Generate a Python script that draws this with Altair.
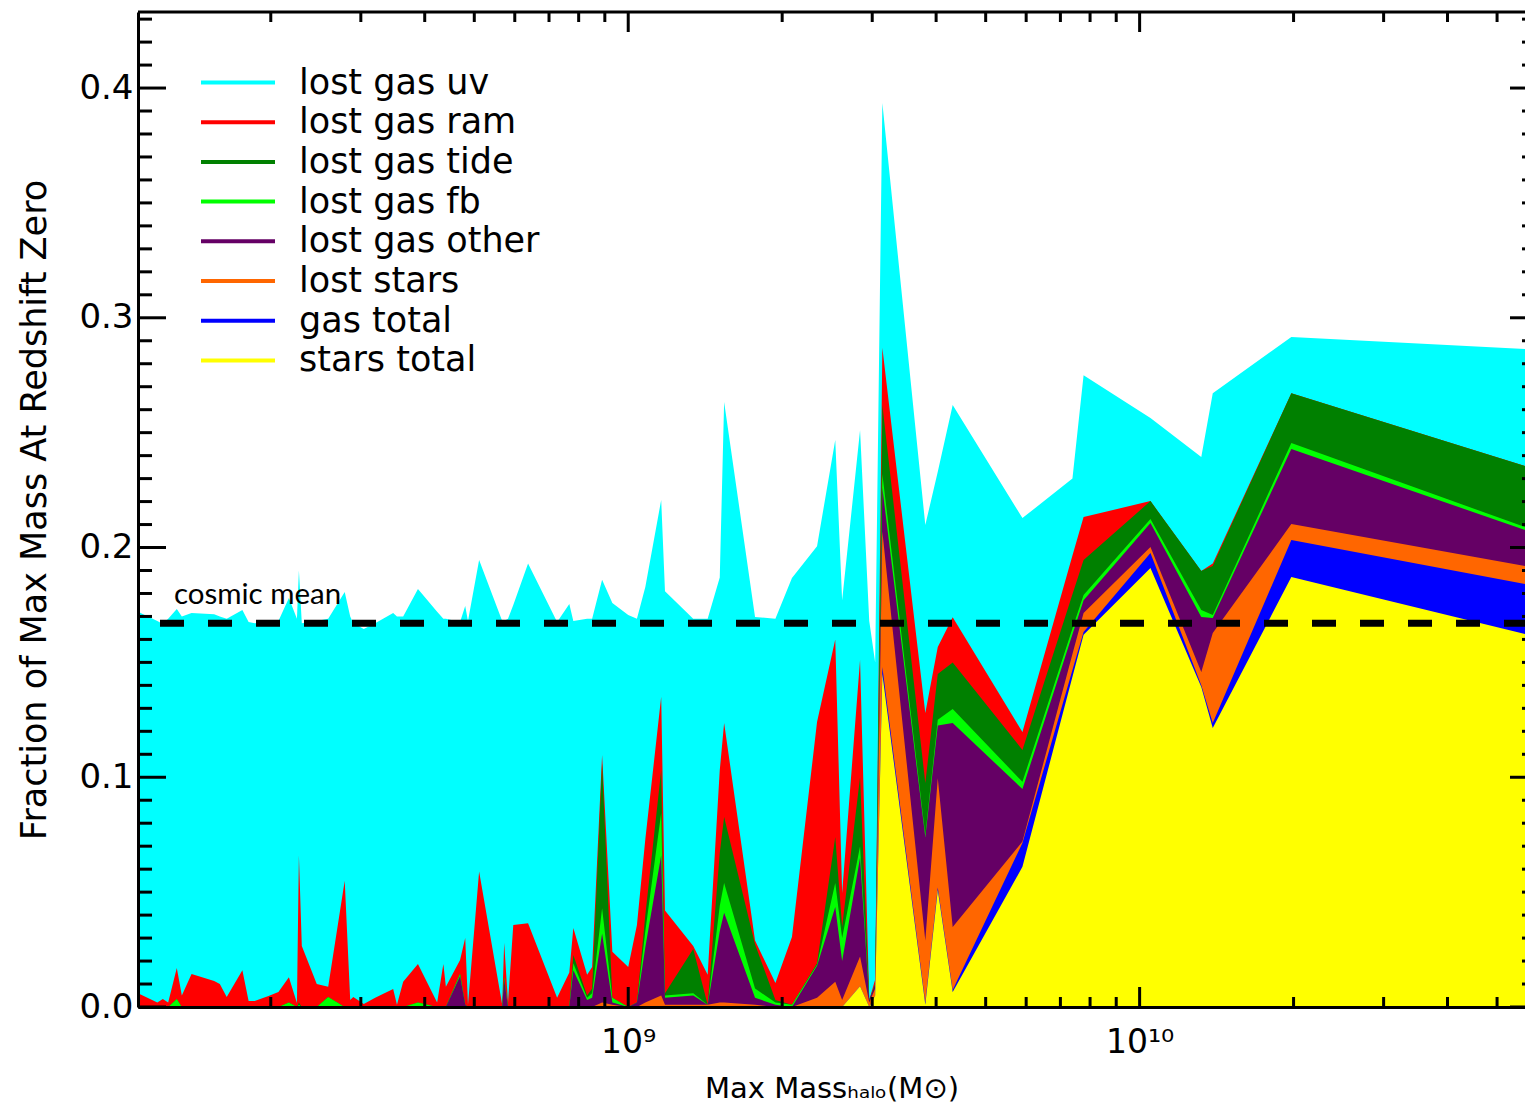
import altair as alt
import pandas as pd

# Peak halo mass of each system (solar masses), increasing
mass = [
    1.10e8, 1.20e8, 1.23e8, 1.26e8, 1.31e8, 1.34e8, 1.40e8, 1.55e8, 1.59e8, 1.64e8,
    1.76e8, 1.81e8, 1.86e8, 1.98e8, 2.07e8, 2.17e8, 2.25e8, 2.27e8, 2.30e8, 2.46e8,
    2.59e8, 2.79e8, 2.86e8, 2.90e8, 2.96e8, 3.04e8, 3.20e8, 3.47e8, 3.53e8, 3.63e8,
    3.88e8, 4.23e8, 4.35e8, 4.40e8, 4.69e8, 4.80e8, 4.86e8, 5.11e8, 5.67e8, 5.72e8,
    5.82e8, 5.96e8, 6.37e8, 7.26e8, 7.67e8, 7.81e8, 8.31e8, 8.50e8, 8.89e8, 9.31e8,
    1.00e9, 1.04e9, 1.08e9, 1.16e9, 1.18e9, 1.34e9, 1.43e9, 1.51e9, 1.54e9, 1.77e9,
    1.94e9, 2.09e9, 2.34e9, 2.54e9, 2.62e9, 2.84e9, 2.96e9, 3.04e9, 3.14e9, 3.81e9,
    4.03e9, 4.31e9, 5.90e9, 7.39e9, 7.77e9, 1.05e10, 1.32e10, 1.39e10, 1.98e10, 5.67e10,
]

# Running totals (fraction of max mass), accumulated from "stars total" upward.
cum_stars_total = [
    0, 0, 0, 0, 0, 0, 0, 0, 0, 0,
    0, 0, 0, 0, 0, 0, 0, 0, 0, 0,
    0, 0, 0, 0, 0, 0, 0, 0, 0, 0,
    0, 0, 0, 0, 0, 0, 0, 0, 0, 0,
    0, 0, 0, 0, 0, 0, 0, 0, 0, 0,
    0, 0, 0, 0, 0, 0, 0, 0, 0, 0,
    0, 0, 0, 0, 0, .009, 0, .005, .145, .001,
    .0509, .0065, .061, .1438, .162, .1911, .1393, .1214, .1872, .1624,
]
cum_gas_total = [
    0, 0, 0, 0, 0, 0, 0, 0, 0, 0,
    0, 0, 0, 0, 0, 0, 0, 0, 0, 0,
    0, 0, 0, 0, 0, 0, 0, 0, 0, 0,
    0, 0, 0, 0, 0, 0, 0, 0, 0, 0,
    0, 0, 0, 0, 0, 0, 0, 0, 0, 0,
    0, 0, 0, 0, 0, 0, 0, 0, 0, 0,
    0, 0, 0, 0, 0, .009, 0, .005, .148, .002,
    .052, .0074, .0714, .1467, .1632, .1976, .140, .1236, .2033, .1841,
]
cum_lost_stars = [
    0, 0, 0, 0, 0, 0, 0, 0, 0, 0,
    0, 0, 0, 0, 0, 0, 0, 0, 0, 0,
    0, 0, 0, 0, 0, 0, 0, 0, 0, 0,
    0, 0, 0, 0, 0, 0, 0, 0, 0, 0,
    0, 0, 0, 0, 0, 0, 0, 0, .002, .001,
    0, 0, .002, .005, .001, .001, .001, .002, .002, .001,
    0, 0, .004, .011, .003, .022, .002, .008, .207, .029,
    .0996, .0348, .072, .1536, .1715, .2002, .1458, .1628, .2102, .192,
]
cum_lost_gas_other = [
    0, 0, 0, 0, 0, 0, 0, 0, 0, 0,
    0, 0, 0, 0, 0, 0, 0, 0, 0, 0,
    0, 0, 0, 0, 0, 0, 0, 0, 0, 0,
    0, 0, 0, 0, .0135, .001, 0, 0, 0, .012,
    0, 0, 0, 0, 0, .016, .003, .004, .032, .002,
    0, .002, .026, .066, .004, .005, .001, .033, .041, .004,
    .001, 0, .018, .0435, .02, .065, .003, .01, .226, .074,
    .1225, .1236, .0949, .1622, .177, .2107, .1698, .1693, .2429, .2076,
]
cum_lost_gas_fb = [
    0, 0, 0, 0, .0035, 0, 0, 0, 0, 0,
    0, 0, 0, 0, 0, .002, 0, .001, 0, 0,
    .0044, 0, 0, 0, 0, 0, 0, 0, 0, 0,
    .002, 0, 0, 0, .0145, .001, 0, 0, 0, .013,
    0, 0, 0, 0, 0, .019, .004, .006, .043, .004,
    0, .002, .033, .0844, .005, .006, .001, .044, .054, .008,
    .002, .001, .0185, .054, .03, .07, .003, .01, .232, .075,
    .125, .1297, .098, .1647, .1793, .2124, .1728, .1706, .2455, .2089,
]
cum_lost_gas_tide = [
    0, 0, 0, 0, .0035, 0, 0, 0, 0, 0,
    0, 0, 0, 0, 0, .002, 0, .002, 0, 0,
    .0044, 0, 0, 0, 0, 0, 0, 0, 0, 0,
    .002, 0, 0, 0, .0145, .001, 0, 0, 0, .013,
    0, 0, 0, 0, 0, .0226, .005, .008, .106, .004,
    0, .002, .040, .103, .006, .0253, .001, .067, .0827, .0273,
    .003, .001, .019, .074, .035, .100, .003, .01, .262, .0975,
    .145, .150, .1119, .1797, .1946, .2202, .1898, .192, .2672, .2355,
]
cum_lost_gas_ram = [
    .006, .002, .0035, .002, .017, .005, .0144, .0113, .010, .0044,
    .016, .0026, .0026, .0048, .0065, .013, .0017, .066, .0265, .010,
    .0088, .055, .003, .0044, .003, .0013, .004, .0078, .001, .011,
    .0187, .002, .0187, .0088, .0205, .030, .001, .059, .001, .028,
    .002, .0357, .0365, .004, .015, .0344, .014, .0174, .1097, .024,
    .0174, .0357, .073, .135, .042, .0265, .014, .103, .1236, .029,
    .0104, .0305, .124, .160, .0496, .151, .003, .012, .287, .128,
    .1567, .1697, .1197, .1965, .2133, .2202, .1898, .193, .2672, .2355,
]
cum_lost_gas_uv = [
    .172, .168, .1667, .169, .1732, .170, .1715, .171, .170, .169,
    .1728, .1676, .167, .1676, .168, .178, .169, .190, .167, .168,
    .169, .1806, .170, .167, .166, .1645, .167, .1715, .170, .170,
    .182, .172, .169, .169, .1676, .1745, .168, .1946, .168, .168,
    .169, .175, .193, .1676, .1754, .168, .169, .169, .186, .1758,
    .1706, .169, .1828, .2207, .181, .169, .169, .187, .2633, .1698,
    .169, .1867, .2006, .2468, .177, .251, .168, .150, .3935, .2098,
    .233, .262, .2128, .230, .275, .2564, .2394, .2672, .2916, .2864,
]

cosmic_mean = 0.167

series_names = ["lost gas uv", "lost gas ram", "lost gas tide", "lost gas fb",
                "lost gas other", "lost stars", "gas total", "stars total"]
series_colors = ["#00FFFF", "#FF0000", "#008000", "#00FF00",
                 "#650065", "#FF6600", "#0000FF", "#FFFF00"]
series_fields = ["uv", "ram", "tide", "fb", "other", "lstars", "gas", "stars"]

# Axis tick positions
x_major_ticks = [1e9, 1e10]
x_minor_ticks = [2e8, 3e8, 4e8, 5e8, 6e8, 7e8, 8e8, 9e8,
                 2e9, 3e9, 4e9, 5e9, 6e9, 7e9, 8e9, 9e9,
                 2e10, 3e10, 4e10, 5e10]
y_major_ticks = [0.0, 0.1, 0.2, 0.3, 0.4]
y_minor_ticks = [round(0.01 * i, 2) for i in range(1, 44) if i % 10]

df = pd.DataFrame({
    "mass": mass,
    "uv": cum_lost_gas_uv, "ram": cum_lost_gas_ram, "tide": cum_lost_gas_tide,
    "fb": cum_lost_gas_fb, "other": cum_lost_gas_other, "lstars": cum_lost_stars,
    "gas": cum_gas_total, "stars": cum_stars_total,
})

W, H = 1387, 995
FONT = "DejaVu Sans"
x_scale = alt.Scale(type="log", domain=[1.10e8, 5.67e10], nice=False)
y_scale = alt.Scale(domain=[0, 0.4331], nice=False, zero=False)

x_axis = alt.Axis(
    values=x_major_ticks,
    labelExpr="datum.value < 5e9 ? '10\u2079' : '10\u00b9\u2070'",
    ticks=False, grid=False, domain=True, domainColor="black", domainWidth=3,
    labelFont=FONT, labelFontSize=33, labelColor="black", labelPadding=19,
    labelFlush=False, labelOverlap=False,
    title="Max Mass\u2095\u2090\u2097\u2092(M\u2299)", titleFont=FONT, titleFontSize=29,
    titleFontWeight="normal", titleColor="black", titlePadding=15, zindex=1,
)
y_axis = alt.Axis(
    values=y_major_ticks, format=".1f",
    ticks=False, grid=False, domain=True, domainColor="black", domainWidth=3,
    labelFont=FONT, labelFontSize=34, labelColor="black", labelPadding=5,
    title="Fraction of Max Mass At Redshift Zero", titleFont=FONT, titleFontSize=35,
    titleFontWeight="normal", titleColor="black", titlePadding=26, zindex=1,
)

def X(field):
    return alt.X(field, scale=x_scale, axis=x_axis)

def Y(field):
    return alt.Y(field, scale=y_scale, axis=y_axis, stack=None)

# Cumulative bands, drawn from the outermost total inward
layers = [
    alt.Chart(df).mark_area(color=color, opacity=1).encode(x=X("mass:Q"), y=Y(f"{field}:Q"))
    for field, color in zip(series_fields, series_colors)
]

# Cosmic baryon fraction
mean_line = alt.Chart(pd.DataFrame({"v": [cosmic_mean]})).mark_rule(
    color="black", strokeWidth=7, strokeDash=[24, 24], strokeDashOffset=3
).encode(y=Y("v:Q"))

mean_label = alt.Chart(pd.DataFrame({"m": [1.293e8], "f": [0.1754], "t": ["cosmic mean"]})).mark_text(
    font="Lato", fontSize=29.5, align="left", baseline="alphabetic", color="black"
).encode(x=X("m:Q"), y=Y("f:Q"), text="t:N")

# Inward ticks on all four sides
def yticks(vals, x0, x1):
    return alt.Chart(pd.DataFrame({"v": vals})).mark_rule(color="black", strokeWidth=3).encode(
        y=Y("v:Q"), x=alt.value(x0), x2=alt.value(x1))

def xticks(vals, y0, y1):
    return alt.Chart(pd.DataFrame({"v": vals})).mark_rule(color="black", strokeWidth=3).encode(
        x=X("v:Q"), y=alt.value(y0), y2=alt.value(y1))

tick_layers = [
    yticks(y_major_ticks, 0, 28), yticks(y_minor_ticks, 0, 14),
    yticks(y_major_ticks, W - 15, W), yticks(y_minor_ticks, W - 3, W),
    xticks(x_major_ticks, H - 20, H), xticks(x_minor_ticks, H - 10, H),
    xticks(x_major_ticks, 0, 20), xticks(x_minor_ticks, 0, 10),
]

top_border = alt.Chart(pd.DataFrame({"a": [0]})).mark_rule(color="black", strokeWidth=3).encode(
    x=alt.value(0), x2=alt.value(W), y=alt.value(0))

legend_layer = alt.Chart(pd.DataFrame({"series": series_names})).mark_line().encode(
    x=alt.value(0), y=alt.value(0),
    color=alt.Color(
        "series:N",
        scale=alt.Scale(domain=series_names, range=series_colors),
        legend=alt.Legend(
            title=None, orient="none", legendX=61, legendY=53,
            symbolType="stroke", symbolSize=5476, symbolStrokeWidth=4,
            labelFont=FONT, labelFontSize=35, labelColor="black", labelOffset=22,
            labelLimit=0, clipHeight=35, rowPadding=3.7, padding=0,
        ),
    ),
).transform_filter("false")

chart = alt.layer(
    *layers, mean_line, mean_label, *tick_layers, top_border, legend_layer
).properties(
    width=W, height=H,
    padding={"left": 138, "top": 12, "right": 0, "bottom": 104},
    autosize=alt.AutoSizeParams(type="none"),
    background="white",
).configure_view(stroke=None)

chart.save("out.html", embed_options={"renderer": "svg", "actions": False})
